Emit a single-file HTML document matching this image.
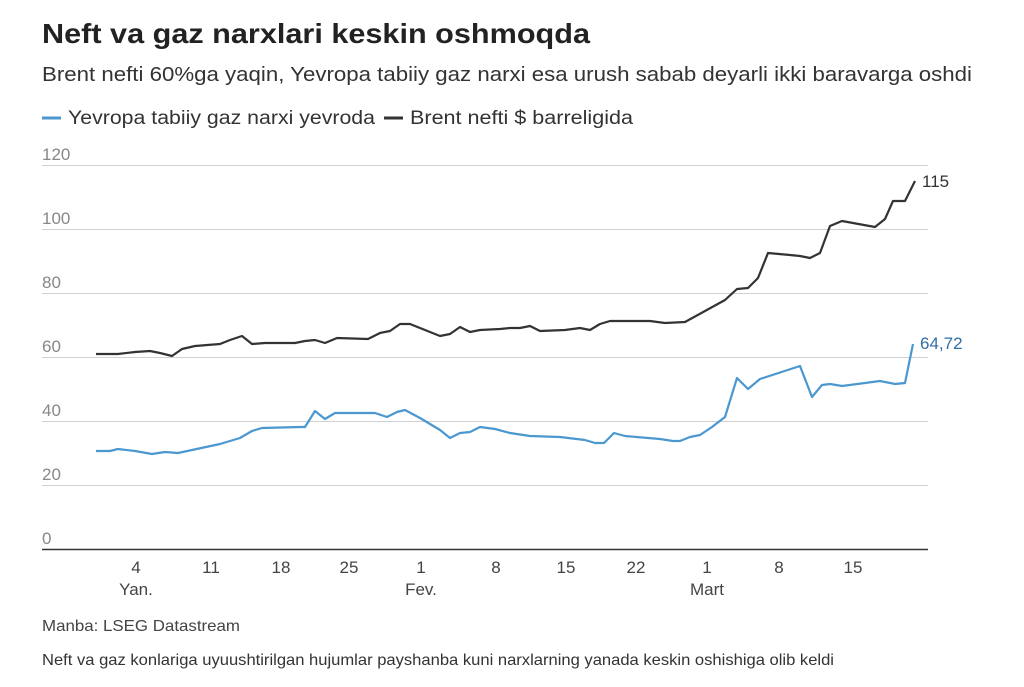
<!DOCTYPE html>
<html><head><meta charset="utf-8"><style>
body{margin:0;background:#fff;width:1024px;height:682px;overflow:hidden;font-family:"Liberation Sans",sans-serif;color:#222}
</style></head><body>
<svg width="1024" height="682" xmlns="http://www.w3.org/2000/svg" font-family="Liberation Sans, sans-serif">
<text x="42" y="43" font-size="28" font-weight="bold" fill="#222" textLength="548" lengthAdjust="spacingAndGlyphs">Neft va gaz narxlari keskin oshmoqda</text>
<text x="42" y="81" font-size="20" fill="#333" textLength="930" lengthAdjust="spacingAndGlyphs">Brent nefti 60%ga yaqin, Yevropa tabiiy gaz narxi esa urush sabab deyarli ikki baravarga oshdi</text>
<line x1="42" y1="118" x2="61" y2="118" stroke="#4b97d0" stroke-width="3"/>
<text x="68" y="124" font-size="19" fill="#333" textLength="307" lengthAdjust="spacingAndGlyphs">Yevropa tabiiy gaz narxi yevroda</text>
<line x1="384" y1="118" x2="403" y2="118" stroke="#333" stroke-width="3"/>
<text x="410" y="124" font-size="19" fill="#333" textLength="223" lengthAdjust="spacingAndGlyphs">Brent nefti $ barreligida</text>
<g stroke="#d0d0d0" stroke-width="1">
<line x1="42" y1="165.5" x2="928" y2="165.5"/><line x1="42" y1="229.5" x2="928" y2="229.5"/>
<line x1="42" y1="293.5" x2="928" y2="293.5"/><line x1="42" y1="357.5" x2="928" y2="357.5"/>
<line x1="42" y1="421.5" x2="928" y2="421.5"/><line x1="42" y1="485.5" x2="928" y2="485.5"/>
</g>
<line x1="42" y1="549.5" x2="928" y2="549.5" stroke="#333" stroke-width="1.5"/>
<g font-size="17" fill="#888">
<text x="42" y="160">120</text><text x="42" y="224">100</text><text x="42" y="288">80</text>
<text x="42" y="352">60</text><text x="42" y="416">40</text><text x="42" y="480">20</text><text x="42" y="544">0</text>
</g>
<g font-size="17" fill="#444" text-anchor="middle">
<text x="136" y="573">4</text><text x="211" y="573">11</text><text x="281" y="573">18</text><text x="349" y="573">25</text><text x="421" y="573">1</text><text x="496" y="573">8</text><text x="566" y="573">15</text><text x="636" y="573">22</text><text x="707" y="573">1</text><text x="779" y="573">8</text><text x="853" y="573">15</text>
<text x="136" y="595">Yan.</text><text x="421" y="595">Fev.</text><text x="707" y="595">Mart</text>
</g>
<polyline fill="none" stroke="#333" stroke-width="2.2" stroke-linejoin="round" points="96,354 118,354 135,352 150,351 160,353 172,356 182,349 195,346 220,344 230,340 242,336 252,344 265,343 295,343 305,341 315,340 325,343 337,338 368,339 380,333 390,331 400,324 410,324 425,330 440,336 450,334 460,327 470,332 480,330 500,329 510,328 520,328 530,326 540,331 565,330 580,328 590,330 600,324 610,321 650,321 665,323 685,322 725,300 737,289 748,288 758,278 768,253 790,255 800,256 810,258 820,253 830,226 842,221 875,227 885,219 893,201 905,201 915,181"/>
<polyline fill="none" stroke="#4b97d0" stroke-width="2.2" stroke-linejoin="round" points="96,451 110,451 118,449 135,451 152,454 165,452 178,453 220,444 240,438 252,431 262,428 300,427 305,427 315,411 325,419 335,413 375,413 387,417 397,412 405,410 420,418 440,430 450,438 460,433 470,432 480,427 495,429 510,433 530,436 560,437 585,440 595,443 604,443 614,433 625,436 660,439 673,441 680,441 690,437 700,435 712,427 725,417 737,378 748,389 760,379 800,366 812,397 822,385 830,384 842,386 880,381 895,384 905,383 913,344"/>
<text x="922" y="187" font-size="17" fill="#333">115</text>
<text x="920" y="349" font-size="17" fill="#2f6ea8">64,72</text>
<text x="42" y="631" font-size="16" fill="#444" textLength="198" lengthAdjust="spacingAndGlyphs">Manba: LSEG Datastream</text>
<text x="42" y="665" font-size="16" fill="#333" textLength="792" lengthAdjust="spacingAndGlyphs">Neft va gaz konlariga uyuushtirilgan hujumlar payshanba kuni narxlarning yanada keskin oshishiga olib keldi</text>
</svg>
</body></html>
